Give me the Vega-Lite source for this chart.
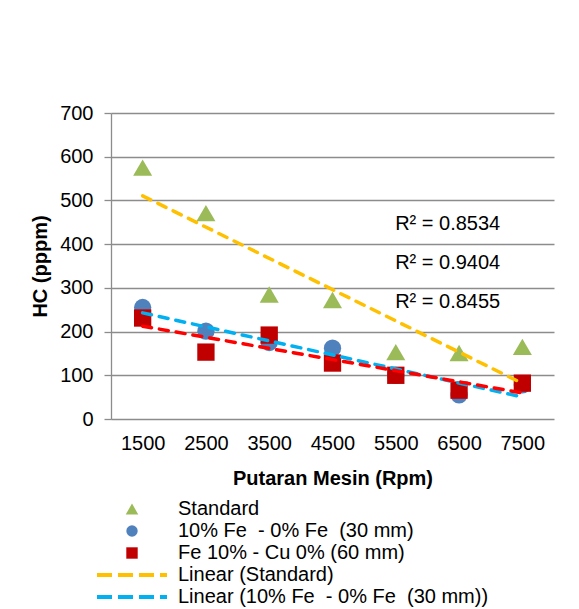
{
  "$schema": "https://vega.github.io/schema/vega-lite/v6.json",
  "width": 443,
  "height": 306,
  "autosize": {"type": "none"},
  "padding": {"left": 111, "top": 113, "right": 25, "bottom": 190},
  "background": "white",
  "config": {
    "view": {"stroke": null},
    "font": "Liberation Sans",
    "text": {"font": "Liberation Sans"}
  },
  "data": {
    "values": [
      {"rpm": 1500, "hc": 575, "series": "Standard", "trend": "Linear (Standard)"},
      {"rpm": 2500, "hc": 471, "series": "Standard", "trend": "Linear (Standard)"},
      {"rpm": 3500, "hc": 285, "series": "Standard", "trend": "Linear (Standard)"},
      {"rpm": 4500, "hc": 272, "series": "Standard", "trend": "Linear (Standard)"},
      {"rpm": 5500, "hc": 153, "series": "Standard", "trend": "Linear (Standard)"},
      {"rpm": 6500, "hc": 151, "series": "Standard", "trend": "Linear (Standard)"},
      {"rpm": 7500, "hc": 165, "series": "Standard", "trend": "Linear (Standard)"},
      {"rpm": 1500, "hc": 255, "series": "10% Fe \u00a0- 0% Fe \u00a0(30 mm)", "trend": "Linear (10% Fe \u00a0- 0% Fe \u00a0(30 mm))"},
      {"rpm": 2500, "hc": 201, "series": "10% Fe \u00a0- 0% Fe \u00a0(30 mm)", "trend": "Linear (10% Fe \u00a0- 0% Fe \u00a0(30 mm))"},
      {"rpm": 3500, "hc": 175, "series": "10% Fe \u00a0- 0% Fe \u00a0(30 mm)", "trend": "Linear (10% Fe \u00a0- 0% Fe \u00a0(30 mm))"},
      {"rpm": 4500, "hc": 162, "series": "10% Fe \u00a0- 0% Fe \u00a0(30 mm)", "trend": "Linear (10% Fe \u00a0- 0% Fe \u00a0(30 mm))"},
      {"rpm": 5500, "hc": 100, "series": "10% Fe \u00a0- 0% Fe \u00a0(30 mm)", "trend": "Linear (10% Fe \u00a0- 0% Fe \u00a0(30 mm))"},
      {"rpm": 6500, "hc": 55, "series": "10% Fe \u00a0- 0% Fe \u00a0(30 mm)", "trend": "Linear (10% Fe \u00a0- 0% Fe \u00a0(30 mm))"},
      {"rpm": 7500, "hc": 78, "series": "10% Fe \u00a0- 0% Fe \u00a0(30 mm)", "trend": "Linear (10% Fe \u00a0- 0% Fe \u00a0(30 mm))"},
      {"rpm": 1500, "hc": 231, "series": "Fe 10% - Cu 0% (60 mm)", "trend": "Linear (Fe 10% - Cu 0% (60 mm))"},
      {"rpm": 2500, "hc": 153, "series": "Fe 10% - Cu 0% (60 mm)", "trend": "Linear (Fe 10% - Cu 0% (60 mm))"},
      {"rpm": 3500, "hc": 192, "series": "Fe 10% - Cu 0% (60 mm)", "trend": "Linear (Fe 10% - Cu 0% (60 mm))"},
      {"rpm": 4500, "hc": 128, "series": "Fe 10% - Cu 0% (60 mm)", "trend": "Linear (Fe 10% - Cu 0% (60 mm))"},
      {"rpm": 5500, "hc": 100, "series": "Fe 10% - Cu 0% (60 mm)", "trend": "Linear (Fe 10% - Cu 0% (60 mm))"},
      {"rpm": 6500, "hc": 66, "series": "Fe 10% - Cu 0% (60 mm)", "trend": "Linear (Fe 10% - Cu 0% (60 mm))"},
      {"rpm": 7500, "hc": 82, "series": "Fe 10% - Cu 0% (60 mm)", "trend": "Linear (Fe 10% - Cu 0% (60 mm))"}
    ]
  },
  "layer": [
    {
      "mark": {"type": "point", "filled": true, "opacity": 1, "size": 300},
      "encoding": {
        "x": {
          "field": "rpm", "type": "quantitative",
          "scale": {"domain": [1000, 8000], "nice": false, "zero": false},
          "axis": {
            "values": [1500, 2500, 3500, 4500, 5500, 6500, 7500], "format": "d",
            "grid": false, "ticks": false, "tickSize": 0, "domain": false,
            "labelFont": "Liberation Sans", "labelFontSize": 20, "labelColor": "#000000",
            "labelPadding": 14, "labelFlush": false, "labelOverlap": false,
            "title": "Putaran Mesin (Rpm)", "titleFont": "Liberation Sans", "titleFontSize": 20,
            "titleFontWeight": "bold", "titleColor": "#000000",
            "titleX": 221.5, "titleY": 59, "titleBaseline": "middle"
          }
        },
        "y": {
          "field": "hc", "type": "quantitative",
          "scale": {"domain": [0, 700], "nice": false},
          "axis": {
            "values": [0, 100, 200, 300, 400, 500, 600, 700],
            "grid": true, "gridColor": "#8c8c8c", "gridWidth": 1.3,
            "domain": true, "domainColor": "#8c8c8c", "domainWidth": 1.3,
            "ticks": true, "tickColor": "#8c8c8c", "tickSize": 7, "tickWidth": 1.3,
            "labelFont": "Liberation Sans", "labelFontSize": 20, "labelColor": "#000000",
            "labelPadding": 11,
            "title": "HC (pppm)", "titleFont": "Liberation Sans", "titleFontSize": 20,
            "titleFontWeight": "bold", "titleColor": "#000000",
            "titleX": -71, "titleY": 153, "titleAngle": 270, "titleBaseline": "middle", "titleAlign": "center"
          }
        },
        "color": {
          "field": "series", "type": "nominal",
          "scale": {
            "domain": ["Standard", "10% Fe \u00a0- 0% Fe \u00a0(30 mm)", "Fe 10% - Cu 0% (60 mm)", "Linear (Standard)", "Linear (10% Fe \u00a0- 0% Fe \u00a0(30 mm))", "Linear (Fe 10% - Cu 0% (60 mm))"],
            "range": ["#9BBB59", "#4F81BD", "#C00000", "#FFC000", "#00B0F0", "#FF0000"]
          },
          "legend": {
            "title": null, "orient": "none", "legendX": 11, "legendY": 386,
            "values": ["Standard", "10% Fe \u00a0- 0% Fe \u00a0(30 mm)", "Fe 10% - Cu 0% (60 mm)", "Linear (Standard)", "Linear (10% Fe \u00a0- 0% Fe \u00a0(30 mm))"],
            "padding": 0, "labelFont": "Liberation Sans", "labelFontSize": 20, "labelColor": "#000000",
            "labelLimit": 500, "labelOffset": 36, "symbolSize": 130, "symbolStrokeWidth": 0,
            "rowPadding": 2, "symbolOpacity": 1
          }
        },
        "shape": {
          "field": "series", "type": "nominal",
          "scale": {
            "domain": ["Standard", "10% Fe \u00a0- 0% Fe \u00a0(30 mm)", "Fe 10% - Cu 0% (60 mm)", "Linear (Standard)", "Linear (10% Fe \u00a0- 0% Fe \u00a0(30 mm))", "Linear (Fe 10% - Cu 0% (60 mm))"],
            "range": ["M0,-0.95L1.1,0.95L-1.1,0.95Z", "circle", "square",
              "M-6.14,-0.35H-3.51V0.35H-6.14Z M-2.46,-0.35H0.18V0.35H-2.46Z M1.23,-0.35H3.86V0.35H1.23Z M4.91,-0.35H6.14V0.35H4.91Z",
              "M-6.14,-0.35H-3.51V0.35H-6.14Z M-2.46,-0.35H0.18V0.35H-2.46Z M1.23,-0.35H3.86V0.35H1.23Z M4.91,-0.35H6.14V0.35H4.91Z",
              "M-6.14,-0.35H-3.51V0.35H-6.14Z M-2.46,-0.35H0.18V0.35H-2.46Z M1.23,-0.35H3.86V0.35H1.23Z M4.91,-0.35H6.14V0.35H4.91Z"]
          }
        }
      }
    },
    {
      "transform": [
        {"regression": "hc", "on": "rpm", "groupby": ["trend"], "extent": [1500, 7500]}
      ],
      "mark": {"type": "line", "strokeWidth": 3.5, "strokeDash": [9, 8], "strokeCap": "round"},
      "encoding": {
        "x": {"field": "rpm", "type": "quantitative"},
        "y": {"field": "hc", "type": "quantitative"},
        "color": {
          "field": "trend", "type": "nominal",
          "scale": {
            "domain": ["Standard", "10% Fe \u00a0- 0% Fe \u00a0(30 mm)", "Fe 10% - Cu 0% (60 mm)", "Linear (Standard)", "Linear (10% Fe \u00a0- 0% Fe \u00a0(30 mm))", "Linear (Fe 10% - Cu 0% (60 mm))"],
            "range": ["#9BBB59", "#4F81BD", "#C00000", "#FFC000", "#00B0F0", "#FF0000"]
          },
          "legend": null
        }
      }
    },
    {
      "data": {"values": [{"label": "R² = 0.8534", "rpm": 5490, "hc": 446}, {"label": "R² = 0.9404", "rpm": 5490, "hc": 356}, {"label": "R² = 0.8455", "rpm": 5490, "hc": 268}]},
      "mark": {"type": "text", "align": "left", "baseline": "middle", "font": "Liberation Sans", "fontSize": 20, "color": "#000000"},
      "encoding": {
        "x": {"field": "rpm", "type": "quantitative"},
        "y": {"field": "hc", "type": "quantitative"},
        "text": {"field": "label", "type": "nominal"}
      }
    }
  ]
}
